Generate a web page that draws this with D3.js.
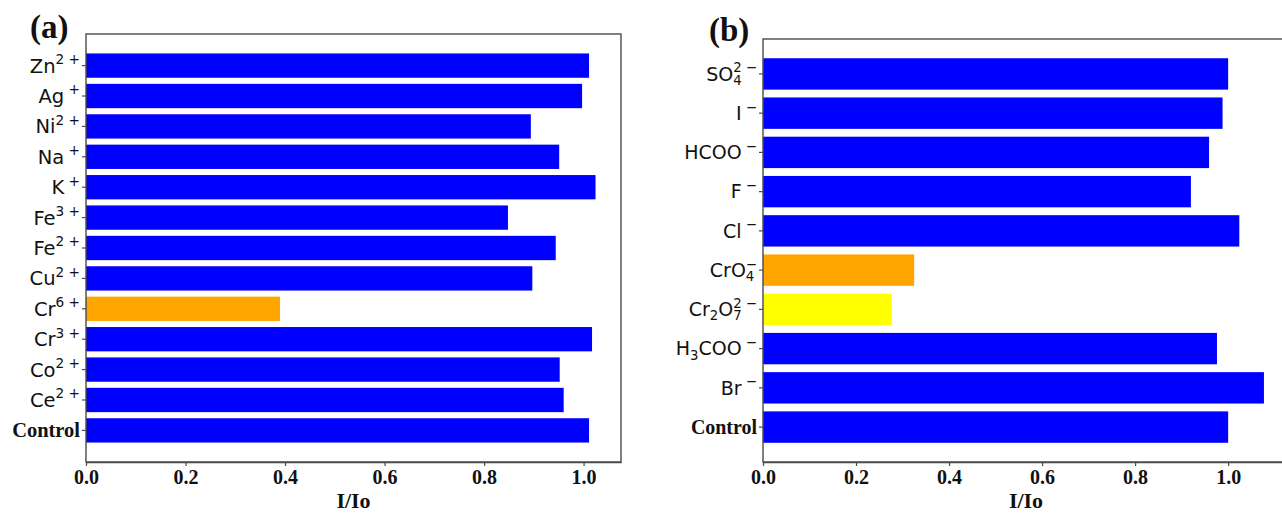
<!DOCTYPE html>
<html><head><meta charset="utf-8">
<script src="https://cdn.jsdelivr.net/npm/d3@7"></script>
<style>body{margin:0;background:#fff}</style>
</head><body><svg id="c" width="1282" height="513" style="background:#fff"></svg>
<script>
// ---- data (top to bottom as displayed) ----
const catsA = ["Zn^{2+}","Ag^{+}","Ni^{2+}","Na^{+}","K^{+}","Fe^{3+}","Fe^{2+}","Cu^{2+}","Cr^{6+}","Cr^{3+}","Co^{2+}","Ce^{2+}","Control"];
const valsA = [1.011,0.997,0.894,0.951,1.024,0.848,0.944,0.897,0.390,1.017,0.952,0.960,1.011];
const catsB = ["SO_{4}^{2-}","I^{-}","HCOO^{-}","F^{-}","Cl^{-}","CrO_{4}^{-}","Cr_{2}O_{7}^{2-}","H_{3}COO^{-}","Br^{-}","Control"];
const valsB = [1.000,0.988,0.959,0.920,1.024,0.325,0.277,0.976,1.077,1.000];
const xTicks = [0,0.2,0.4,0.6,0.8,1.0];
const xLabel = "I/Io";
const panelTags = ["(a)","(b)"];
const highlight = {"Cr^{6+}":"#ffa500","CrO_{4}^{-}":"#ffa500","Cr_{2}O_{7}^{2-}":"#ffff00"};

const svg = d3.select("#c");
const SERIF = "'Liberation Serif','Times New Roman',serif";
const SANS = "'DejaVu Sans',sans-serif";
const SPINE = "#4a4a4a";

function parse(s){
  const segs=[]; let i=0, buf="";
  while(i<s.length){
    const c=s[i];
    if((c==='_'||c==='^') && s[i+1]==='{'){
      if(buf){segs.push({t:'n',s:buf});buf="";}
      const j=s.indexOf('}',i);
      segs.push({t:c==='_'?'sub':'sup',s:s.slice(i+2,j)}); i=j+1;
    } else {buf+=c;i++;}
  }
  if(buf) segs.push({t:'n',s:buf});
  return segs;
}

function drawLabel(g, str, x, y, F){
  if(str==="Control"){
    g.append("text").attr("x",x).attr("y",y).attr("text-anchor","end").attr("fill","#111")
      .attr("font-family",SERIF).attr("font-weight","bold").attr("font-size",F*1.05).text("Control");
    return;
  }
  const text=g.append("text").attr("x",x).attr("y",y).attr("text-anchor","end")
    .attr("font-family",SANS).attr("fill","#111");
  const segs=parse(str);
  const raise=0.44*F, drop=0.22*F, S=F*0.7;
  let off=0, subW=0;
  segs.forEach((sg,k)=>{
    if(sg.t==='n'){
      text.append("tspan").attr("dy",-off).attr("font-size",F).text(sg.s); off=0;
    } else if(sg.t==='sub'){
      const ts=text.append("tspan").attr("dy",drop-off).attr("font-size",S).text(sg.s); off=drop;
      subW=ts.node().getComputedTextLength();
    } else {
      const stacked = k>0 && segs[k-1].t==='sub';
      let s=sg.s;
      if(stacked && (s==='+'||s==='-')) s = s.replace('-','\u2212');
      else s = s.replace(/([+-])/, '\u00a0$1').replace('-','\u2212');
      const ts=text.append("tspan").attr("dy",-raise-off).attr("font-size",S).text(s);
      if(stacked) ts.attr("dx",-subW);
      off=-raise;
    }
  });
}

function panel(cfg){
  const {cats, vals, left, right, top, bottom, F, tickF, tag, tagX, tagY} = cfg;
  const n=cats.length;
  const x=d3.scaleLinear().domain([0,d3.max(vals)*1.05]).range([left,right]);
  const y=d3.scaleBand().domain(cats).range([top,bottom]).paddingInner(0.2).paddingOuter(0.05*(n-0.2));
  const g=svg.append("g");
  g.selectAll("rect.bar").data(cats).join("rect").attr("class","bar")
    .attr("x",x(0)).attr("y",d=>y(d)).attr("height",y.bandwidth())
    .attr("width",(d,i)=>x(vals[i])-x(0))
    .attr("fill",d=>highlight[d]||"#0000ff");
  // spines
  g.append("rect").attr("x",left).attr("y",top).attr("width",right-left).attr("height",bottom-top)
    .attr("fill","none").attr("stroke",SPINE).attr("stroke-width",1.4);
  // x axis
  const ax=g.append("g").attr("transform",`translate(0,${bottom})`)
    .call(d3.axisBottom(x).tickValues(xTicks).tickFormat(d3.format(".1f")).tickSize(4).tickSizeOuter(0));
  ax.select(".domain").attr("stroke",SPINE).attr("stroke-width",1.4);
  ax.selectAll(".tick line").attr("stroke",SPINE).attr("stroke-width",1.2);
  ax.selectAll(".tick text").attr("y",22).attr("dy",null).attr("font-family",SERIF)
    .attr("font-weight","bold").attr("font-size",tickF).attr("fill","#111");
  // y axis
  const ay=g.append("g").attr("transform",`translate(${left},0)`)
    .call(d3.axisLeft(y).tickSize(4).tickFormat(""));
  ay.select(".domain").remove();
  ay.selectAll(".tick line").attr("stroke",SPINE).attr("stroke-width",1.2);
  ay.selectAll(".tick").each(function(d){
    drawLabel(d3.select(this), d, -6, 0.36*F, F);
  });
  // x label
  g.append("text").attr("x",(left+right)/2).attr("y",508).attr("text-anchor","middle")
    .attr("font-family",SERIF).attr("font-weight","bold").attr("font-size",22).attr("fill","#111").text(xLabel);
  // tag
  g.append("text").attr("x",tagX).attr("y",tagY).attr("font-family",SERIF).attr("font-weight","bold")
    .attr("font-size",33).attr("fill","#111").text(tag);
}

panel({cats:catsA, vals:valsA, left:86, right:621, top:34, bottom:462, F:19.5, tickF:20, tag:panelTags[0], tagX:30, tagY:38});
panel({cats:catsB, vals:valsB, left:763, right:1289, top:39, bottom:462, F:19, tickF:20, tag:panelTags[1], tagX:709, tagY:41});
</script>
</body></html>
